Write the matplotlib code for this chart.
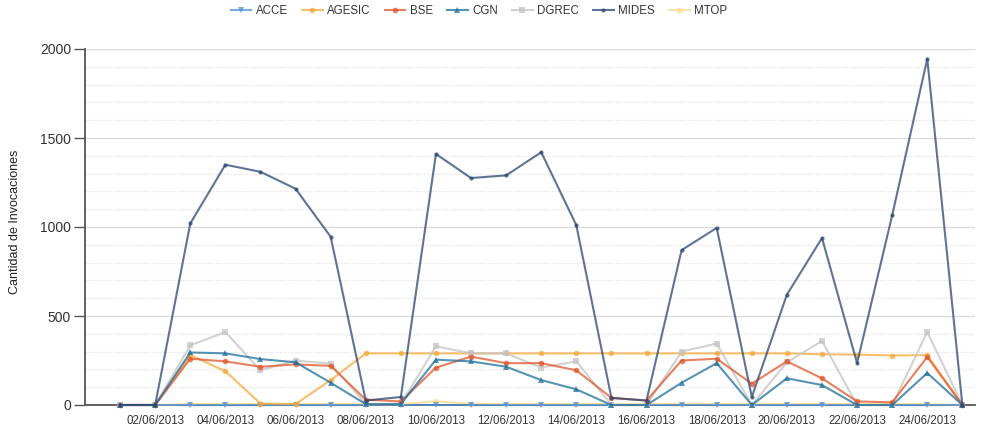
import matplotlib.pyplot as plt
from matplotlib.ticker import MultipleLocator
import numpy as np

plt.rcParams['font.family'] = ['Liberation Sans', 'DejaVu Sans']

# daily invocation counts, 01/06/2013 .. 25/06/2013
dates = ['%02d/06/2013' % d for d in range(1, 26)]

acce = [0] * 25
agesic = [0, 0, 280, 190, 8, 5, 140, 290, 290, 290, 290, 290, 290, 290, 290,
          290, 290, 290, 290, 290, 285, 283, 278, 280, 0]
bse = [0, 0, 260, 245, 215, 228, 220, 30, 20, 210, 272, 235, 235, 195, 40,
       25, 250, 260, 120, 245, 150, 20, 15, 270, 0]
cgn = [0, 0, 295, 290, 258, 240, 125, 5, 5, 255, 245, 215, 140, 88, 0,
       0, 125, 235, 0, 150, 112, 0, 0, 180, 0]
dgrec = [0, 0, 335, 410, 195, 250, 232, 5, 5, 330, 290, 290, 210, 245, 0,
         0, 300, 345, 0, 240, 360, 0, 0, 410, 0]
mides = [0, 0, 1020, 1350, 1310, 1215, 945, 25, 45, 1410, 1275, 1290, 1420, 1010, 40,
         25, 870, 995, 45, 620, 938, 235, 1065, 1945, 0]
mtop = [0, 0, 5, 5, 5, 5, 5, 5, 5, 20, 8, 5, 5, 5, 5,
        5, 8, 5, 5, 5, 5, 5, 5, 5, 0]

series = [
    ('ACCE', acce, '#4a90d9', 'v'),
    ('AGESIC', agesic, '#f5a83a', 'o'),
    ('BSE', bse, '#e0562a', 'o'),
    ('CGN', cgn, '#1f6f9a', '^'),
    ('DGREC', dgrec, '#c4c4c4', 's'),
    ('MIDES', mides, '#2a4672', 'o'),
    ('MTOP', mtop, '#ffd98a', 'o'),
]

x = np.arange(len(dates))

fig = plt.figure(figsize=(9.84, 4.25), dpi=100)
ax = fig.add_axes([85 / 984, 20 / 425, 890 / 984, 356 / 425])

# draw near-zero series first so the bigger ones sit on top
order = ['MTOP', 'ACCE', 'AGESIC', 'DGREC', 'BSE', 'CGN', 'MIDES']
handles = {}
for name, vals, color, marker in series:
    ms = 3 if name == 'MIDES' else 4
    h, = ax.plot(x, vals, color=color, lw=1.5, alpha=0.75, marker=marker,
                 markersize=ms, markeredgewidth=0, markerfacecolor=color,
                 clip_on=False, zorder=3 + order.index(name), label=name)
    handles[name] = h

ax.set_xlim(-1, 24.36)
ax.set_ylim(0, 2000)

ax.yaxis.set_major_locator(MultipleLocator(500))
ax.yaxis.set_minor_locator(MultipleLocator(100))
ax.grid(which='major', axis='y', color='#dcdcdc', lw=1, zorder=0)
ax.grid(which='minor', axis='y', color='#e6e6e6', lw=1, ls=(0, (1, 1)), zorder=0)
ax.tick_params(axis='y', which='major', length=8, color='#555555', labelsize=10,
               labelcolor='#333333', width=1, pad=2)
ax.tick_params(axis='y', which='minor', length=0)

ax.set_xticks(x[1::2])
ax.set_xticklabels(dates[1::2])
ax.tick_params(axis='x', length=0, labelsize=8.3, labelcolor='#333333', pad=7)

for side in ['top', 'right']:
    ax.spines[side].set_visible(False)
for side in ['left', 'bottom']:
    ax.spines[side].set_color('#555555')
    ax.spines[side].set_linewidth(1.3)

ax.set_ylabel('Cantidad de Invocaciones', fontsize=9, color='#222222')
ax.yaxis.set_label_coords((21 - 85) / 890, 0.514)

names = [s[0] for s in series]
fig.legend([handles[n] for n in names], names, loc='center', ncol=7,
           bbox_to_anchor=(479 / 984, 1 - 11 / 425), frameon=False,
           fontsize=8.3, handlelength=1.8, columnspacing=1.2, handletextpad=0.4,
           labelcolor='#333333')

fig.savefig('out.png', dpi=100)
